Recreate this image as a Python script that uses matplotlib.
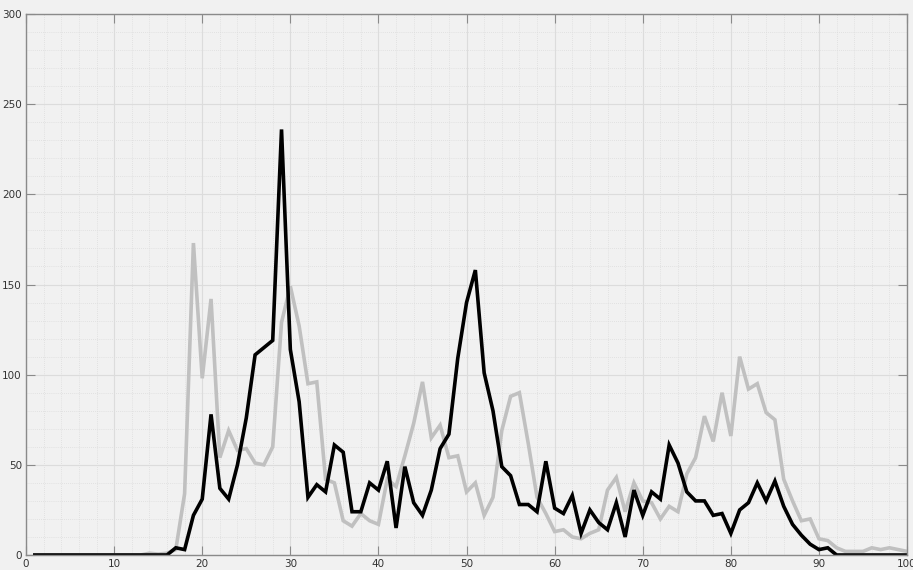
import numpy as np
import matplotlib
matplotlib.use("Agg")
import matplotlib.pyplot as plt
from matplotlib.ticker import MultipleLocator

# x positions 1..100
x = np.arange(1, 101)

# light gray series
gray = [0, 0, 0, 0, 0, 0, 0, 0, 0, 0,
        0, 0, 0, 1, 0.5, 1, 3, 34, 173, 98,
        142, 54, 69, 58, 59, 51, 50, 60, 129, 149,
        127, 95, 96, 42, 40, 19, 16, 23, 19, 17,
        42, 38, 55, 73, 96, 65, 72, 54, 55, 35,
        40, 22, 32, 69, 88, 90, 62, 32, 23, 13,
        14, 10, 9, 12, 14, 36, 43, 24, 40, 30,
        29, 20, 27, 24, 45, 54, 77, 63, 90, 66,
        110, 92, 95, 79, 75, 42, 30, 19, 20, 9,
        8, 4, 2, 2, 2, 4, 3, 4, 3, 2]

# black series
black = [0, 0, 0, 0, 0, 0, 0, 0, 0, 0,
         0, 0, 0, 0, 0, 0, 4, 3, 22, 31,
         78, 37, 31, 50, 76, 111, 115, 119, 236, 114,
         85, 32, 39, 35, 61, 57, 24, 24, 40, 36,
         52, 15, 49, 29, 22, 36, 59, 67, 109, 140,
         158, 101, 80, 49, 44, 28, 28, 24, 52, 26,
         23, 33, 12, 25, 18, 14, 29, 10, 36, 22,
         35, 31, 61, 51, 35, 30, 30, 22, 23, 12,
         25, 29, 40, 30, 41, 27, 17, 11, 6, 3,
         4, 0, 0, 0, 0, 0, 0, 0, 0, 0]

bg = "#f1f1f1"
fig = plt.figure(figsize=(9.13, 5.70), dpi=100, facecolor=bg)
ax = fig.add_axes([0.0285, 0.0263, 0.965, 0.9491])
ax.set_facecolor(bg)

ax.plot(x, gray, color="#c0c0c0", lw=2.6, solid_joinstyle="miter")
ax.plot(x, black, color="black", lw=2.6, solid_joinstyle="miter")

ax.set_xlim(0, 100)
ax.set_ylim(0, 300)
ax.xaxis.set_major_locator(MultipleLocator(10))
ax.xaxis.set_minor_locator(MultipleLocator(2))
ax.yaxis.set_major_locator(MultipleLocator(50))
ax.yaxis.set_minor_locator(MultipleLocator(10))

ax.grid(which="major", color="#dcdcdc", lw=0.8, ls="-")
ax.grid(which="minor", color="#dcdcdc", lw=0.6, ls=(0, (1, 1.5)))
ax.set_axisbelow(True)

ax.tick_params(which="major", direction="in", length=6.5, width=0.8,
               color="#8a8a8a", top=True, right=True,
               labelsize=7.5, labelcolor="#333333", pad=3)
ax.tick_params(which="minor", length=0, top=True, right=True)

for s in ax.spines.values():
    s.set_color("#8a8a8a")
    s.set_linewidth(1.0)

fig.savefig("out.png", dpi=100, facecolor=bg)
